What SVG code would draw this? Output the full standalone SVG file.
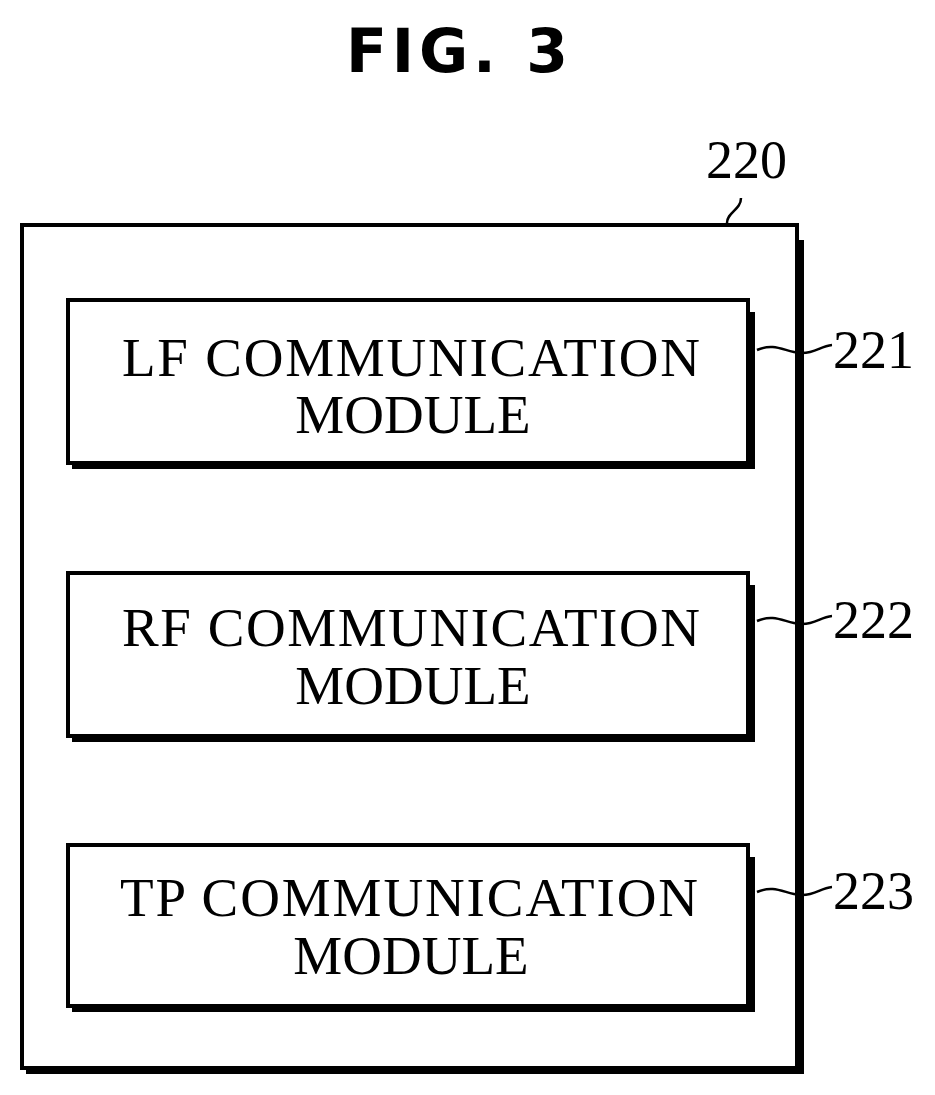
<svg xmlns="http://www.w3.org/2000/svg" width="935" height="1095" viewBox="0 0 935 1095">
<style>
.b{fill:#fff;stroke:#000;stroke-width:4}
.s{fill:#000}
.t{font-family:"Liberation Serif",serif;font-size:55px;text-anchor:middle}
.n{font-family:"Liberation Serif",serif;font-size:54px}
.l{fill:none;stroke:#000;stroke-width:2.5}
</style>
<rect width="935" height="1095" fill="#fff"/>
<text x="457" y="72" font-family="DejaVu Sans,sans-serif" font-weight="bold" font-size="60" text-anchor="middle" textLength="222">FIG. 3</text>
<g id="n220">
<rect class="s" x="26" y="240" width="778" height="834"/>
<rect class="b" x="22" y="225" width="775" height="843"/>
<text class="n" x="706" y="178">220</text>
</g>
<g id="n221">
<rect class="s" x="72" y="312" width="683" height="157"/>
<rect class="b" x="68" y="300" width="680" height="163"/>
<text class="t" x="411" y="376" textLength="578">LF  COMMUNICATION</text>
<text class="t" x="413" y="433">MODULE</text>
<text class="n" x="833" y="368">221</text>
</g>
<g id="n222">
<rect class="s" x="72" y="585" width="683" height="157"/>
<rect class="b" x="68" y="573" width="680" height="163"/>
<text class="t" x="411" y="646" textLength="578">RF  COMMUNICATION</text>
<text class="t" x="413" y="704">MODULE</text>
<text class="n" x="833" y="638">222</text>
</g>
<g id="n223">
<rect class="s" x="72" y="857" width="683" height="155"/>
<rect class="b" x="68" y="845" width="680" height="161"/>
<text class="t" x="409" y="916" textLength="578">TP  COMMUNICATION</text>
<text class="t" x="411" y="974">MODULE</text>
<text class="n" x="833" y="909">223</text>
</g>
<g id="connectors">
<path class="l" d="M727,223 C727,212 741,210 741,198"/>
<path class="l" d="M757,350 C775,342 785,352 800,353 C815,354 820,346 832,345"/>
<path class="l" d="M757,621 C775,613 785,623 800,624 C815,625 820,617 832,616"/>
<path class="l" d="M757,892 C775,884 785,894 800,895 C815,896 820,888 832,887"/>
</g>
</svg>
